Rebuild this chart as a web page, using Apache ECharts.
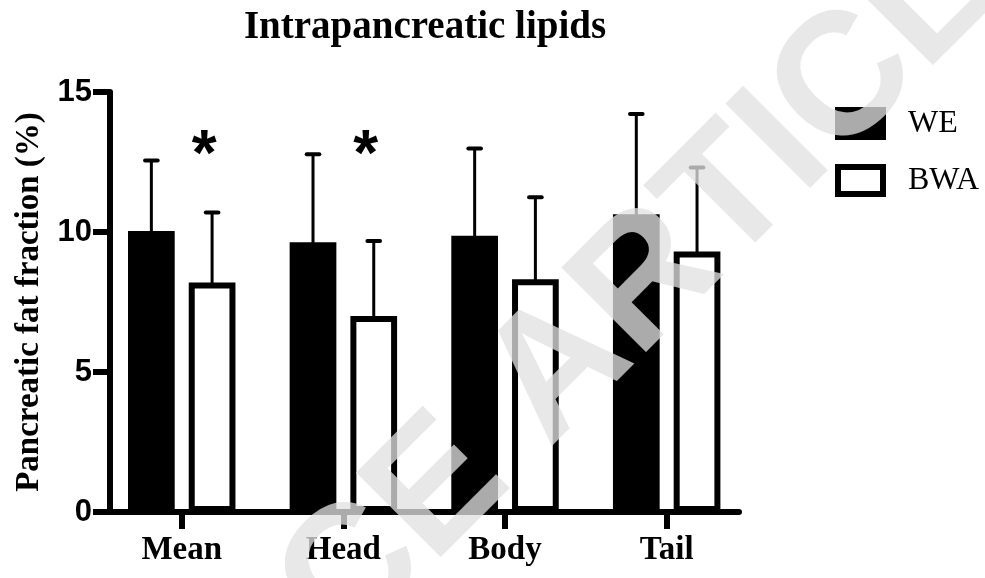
<!DOCTYPE html>
<html><head><meta charset="utf-8">
<script src="https://cdn.jsdelivr.net/npm/echarts@6/dist/echarts.min.js"></script>
<style>html,body{margin:0;padding:0;background:#fff}#c{width:985px;height:578px}</style>
</head><body><div id="c"></div>
<script>
// ---- data ----
const categories = ['Mean', 'Head', 'Body', 'Tail'];
const seriesNames = ['WE', 'BWA'];
const weMean = [10.04, 9.63, 9.87, 10.63];
const weUpper = [12.55, 12.78, 12.98, 14.21];
const bwaMean = [8.20, 7.00, 8.31, 9.30];
const bwaUpper = [10.70, 9.68, 11.24, 12.30];
const significance = ['*', '*', '', ''];
const yMin = 0, yMax = 15, yStep = 5;
const chartTitle = 'Intrapancreatic lipids';
const yTitle = 'Pancreatic fat fraction (%)';
const watermark = 'SCIENCE ARTICLE';

// ---- layout constants ----
const BAR_FRAC = 0.289;   // bar width as fraction of band
const GAP_FRAC = 0.30;    // gap as fraction of bar width
const SIG_LEVEL = 13.1;

const chart = echarts.init(document.getElementById('c'), null, {renderer: 'canvas'});

function errRender(sign, withSig) {
  return function (params, api) {
    const i = api.value(0);
    const base = api.coord([i, api.value(1)]);
    const top = api.coord([i, api.value(2)]);
    const band = api.size([1, 0])[0];
    const off = band * BAR_FRAC * (1 + GAP_FRAC) / 2 * sign;
    const x = base[0] + off;
    const children = [
      {type: 'line', shape: {x1: x, y1: base[1] + 3, x2: x, y2: top[1]}, style: {stroke: '#000', lineWidth: 3}},
      {type: 'line', shape: {x1: x - 6.3, y1: top[1], x2: x + 6.3, y2: top[1]}, style: {stroke: '#000', lineWidth: 4, lineCap: 'round'}}
    ];
    if (withSig && significance[i]) {
      const p = api.coord([i, SIG_LEVEL]);
      children.push({type: 'text', x: x - 8, y: p[1] + 12,
        style: {text: significance[i], font: 'bold 64px "Liberation Sans"', fill: '#000',
          textAlign: 'center', textVerticalAlign: 'middle', align: 'center', verticalAlign: 'middle'}});
    }
    return {type: 'group', children: children};
  };
}

const option = {
  backgroundColor: '#fff',
  animation: false,
  title: {
    text: chartTitle, left: 425, top: 7.5, padding: 0, textAlign: 'center',
    textStyle: {fontFamily: 'Liberation Serif', fontWeight: 'bold', fontSize: 39, color: '#000', lineHeight: 40}
  },
  legend: {
    data: seriesNames, orient: 'vertical', left: 835, top: 107, padding: 0,
    itemWidth: 45, itemHeight: 27, itemGap: 24, icon: 'rect',
    itemStyle: {borderWidth: 6, borderColor: '#000'},
    textStyle: {fontFamily: 'Liberation Serif', fontSize: 32, color: '#000', padding: [0, 0, 0, 20], lineHeight: 27}
  },
  grid: [
    {left: 100.9, right: 237.5, top: 92, bottom: 66},
    {left: 107, right: 246, top: 92, bottom: 66}
  ],
  xAxis: [
    {gridIndex: 0, type: 'category', data: categories,
      axisLine: {show: false},
      axisTick: {show: true, alignWithLabel: true, length: 17, lineStyle: {width: 6, color: '#000'}},
      axisLabel: {fontFamily: 'Liberation Serif', fontWeight: 'bold', fontSize: 33, color: '#000', margin: 22, lineHeight: 33},
      splitLine: {show: false}},
    {gridIndex: 1, type: 'value', min: 0, max: 1,
      axisLine: {show: true, onZero: true, lineStyle: {width: 6, color: '#000'}},
      axisTick: {show: false}, axisLabel: {show: false}, splitLine: {show: false}}
  ],
  yAxis: [
    {gridIndex: 0, type: 'value', min: yMin, max: yMax, interval: yStep, show: false},
    {gridIndex: 1, type: 'value', min: yMin, max: yMax, interval: yStep, offset: -3,
      axisLine: {show: true, onZero: false, lineStyle: {width: 6, color: '#000'}},
      axisTick: {show: true, length: 17, lineStyle: {width: 6, color: '#000'}},
      axisLabel: {fontFamily: 'Liberation Sans', fontWeight: 'bold', fontSize: 31, color: '#000', margin: 18},
      splitLine: {show: false},
      name: yTitle, nameLocation: 'middle', nameGap: 64,
      nameTextStyle: {fontFamily: 'Liberation Serif', fontWeight: 'bold', fontSize: 33, color: '#000'}}
  ],
  series: [
    {name: seriesNames[0], type: 'bar', xAxisIndex: 0, yAxisIndex: 0, data: weMean,
      barWidth: (BAR_FRAC * 100) + '%', barGap: (GAP_FRAC * 100) + '%',
      itemStyle: {color: '#000', borderColor: '#000', borderWidth: 6}},
    {name: seriesNames[1], type: 'bar', xAxisIndex: 0, yAxisIndex: 0, data: bwaMean,
      barWidth: (BAR_FRAC * 100) + '%', barGap: (GAP_FRAC * 100) + '%',
      itemStyle: {color: '#fff', borderColor: '#000', borderWidth: 6}},
    {name: 'WE error', type: 'custom', xAxisIndex: 0, yAxisIndex: 0, z: 3,
      renderItem: errRender(-1, false),
      data: categories.map((c, i) => [i, weMean[i], weUpper[i]])},
    {name: 'BWA error', type: 'custom', xAxisIndex: 0, yAxisIndex: 0, z: 3,
      renderItem: errRender(1, true),
      data: categories.map((c, i) => [i, bwaMean[i], bwaUpper[i]])}
  ],
  graphic: [
    {type: 'text', x: 1048, y: -118, rotation: Math.PI / 4, z: 1000, silent: true,
      style: {text: watermark, font: 'bold 174px "Liberation Sans"', fill: 'rgba(225,225,225,0.76)',
        textAlign: 'right', textVerticalAlign: 'middle', align: 'right', verticalAlign: 'middle'}}
  ]
};
chart.setOption(option);
</script>
</body></html>
